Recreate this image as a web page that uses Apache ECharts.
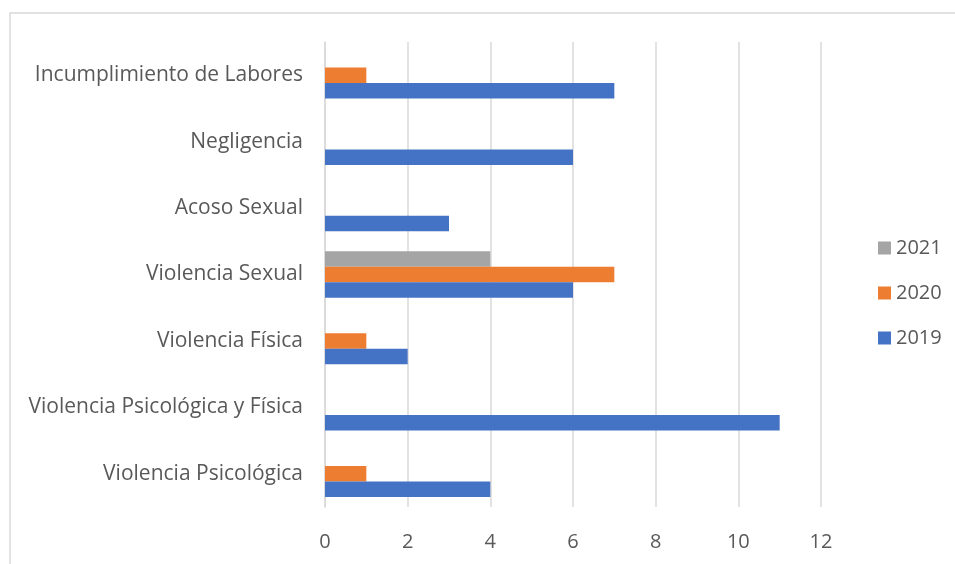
<!DOCTYPE html>
<html>
<head>
<meta charset="utf-8">
<script src="https://cdn.jsdelivr.net/npm/echarts@6/dist/echarts.min.js"></script>
<style>
  html, body { margin: 0; padding: 0; background: #fff; }
  #chart { width: 955px; height: 564px; }
</style>
</head>
<body>
<div id="chart"></div>
<script>
// categories, bottom to top
const categories = [
  'Violencia Psicológica',
  'Violencia Psicológica y Física',
  'Violencia Física',
  'Violencia Sexual',
  'Acoso Sexual',
  'Negligencia',
  'Incumplimiento de Labores'
]
const values2019 = [4, 11, 2, 6, 3, 6, 7]
const values2020 = [1, 0, 1, 7, 0, 0, 1]
const values2021 = [0, 0, 0, 4, 0, 0, 0]
const xTicks = [0, 2, 4, 6, 8, 10, 12]

const font = '"Open Sans", sans-serif'
const textColor = '#595959'

const myChart = echarts.init(document.getElementById('chart'))
const option = {
  animation: false,
  graphic: [
    {
      type: 'rect',
      shape: { x: 10, y: 13, width: 1000, height: 600 },
      style: { fill: 'none', stroke: '#D9D9D9', lineWidth: 1.5 },
      silent: true
    }
  ],
  grid: { left: 325, right: 134, top: 42, bottom: 57 },
  legend: {
    orient: 'vertical',
    left: 873,
    top: 233,
    data: ['2021', '2020', '2019'],
    icon: 'rect',
    itemWidth: 13,
    itemHeight: 13,
    itemGap: 25,
    textStyle: { fontFamily: font, fontSize: 20, color: textColor, lineHeight: 20 }
  },
  xAxis: {
    type: 'value',
    min: 0,
    max: 12,
    interval: 2,
    axisLine: { show: false },
    axisTick: { show: false },
    axisLabel: {
      margin: 25,
      fontFamily: font,
      fontSize: 20,
      color: textColor,
      formatter: function (v) { return xTicks.indexOf(v) >= 0 ? String(v) : '' }
    },
    splitLine: { lineStyle: { color: '#D9D9D9', width: 1.5 } }
  },
  yAxis: {
    type: 'category',
    data: categories,
    axisLine: { lineStyle: { color: '#D9D9D9', width: 1.5 } },
    axisTick: { length: 7, lineStyle: { color: '#BFBFBF', width: 1.5 } },
    axisLabel: { margin: 22, padding: [6, 0, 0, 0], fontFamily: font, fontSize: 21, color: textColor }
  },
  series: [
    {
      name: '2021', type: 'bar', data: values2021,
      barGap: 0, barCategoryGap: '30%',
      itemStyle: { color: '#A5A5A5' }
    },
    {
      name: '2020', type: 'bar', data: values2020,
      itemStyle: { color: '#ED7D31' }
    },
    {
      name: '2019', type: 'bar', data: values2019,
      itemStyle: { color: '#4472C4' }
    }
  ]
}
myChart.setOption(option)
</script>
</body>
</html>
